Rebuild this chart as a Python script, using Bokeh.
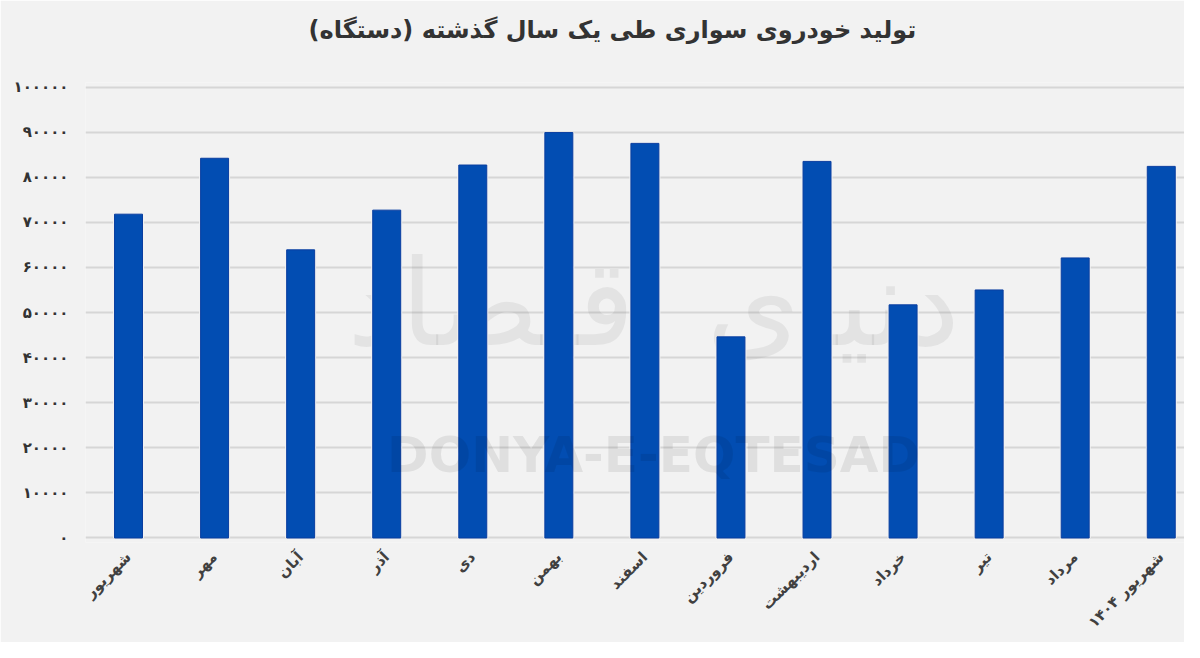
import math
from bokeh.plotting import figure
from bokeh.models import Range1d, FixedTicker, Label, Title
from bokeh.embed import file_html
from bokeh.resources import INLINE

months = ["شهریور", "مهر", "آبان", "آذر", "دی", "بهمن", "اسفند",
          "فروردین", "اردیبهشت", "خرداد", "تیر", "مرداد", "شهریور ۱۴۰۴"]
production = [71800, 84200, 63900, 72700, 82700, 89900, 87500,
              44600, 83500, 51700, 55000, 62100, 82400]
y_ticks = [0, 10000, 20000, 30000, 40000, 50000, 60000, 70000, 80000, 90000, 100000]
y_tick_labels = ["۰", "۱۰۰۰۰", "۲۰۰۰۰", "۳۰۰۰۰", "۴۰۰۰۰", "۵۰۰۰۰", "۶۰۰۰۰",
                 "۷۰۰۰۰", "۸۰۰۰۰", "۹۰۰۰۰", "۱۰۰۰۰۰"]
title_text = "تولید خودروی سواری طی یک سال گذشته (دستگاه)"

xs = list(range(len(months)))

BG = "#f2f2f2"
FONT = "DejaVu Sans"

p = figure(width=1184, height=642, output_backend="svg", toolbar_location=None,
           x_range=Range1d(-0.5, 12.27), y_range=Range1d(-1000, 101000),
           min_border_left=85, min_border_right=0, min_border_top=82,
           min_border_bottom=100, title=None)
p.background_fill_color = BG
p.border_fill_color = BG
p.outline_line_color = None

# spacer between frame and title, then the title itself
p.add_layout(Title(text=" ", text_font_size="10px", standoff=26), "above")
p.add_layout(Title(text=title_text, align="left", offset=223, text_font=FONT,
                   text_font_style="bold", text_font_size="24px",
                   text_color="#333333", standoff=0), "above")

# watermark
p.add_layout(Label(x=6.1, y=52000, text="دنیای اقتصاد", text_align="center",
                   text_baseline="middle", text_font=FONT, text_font_size="120px",
                   text_color="#000000", text_alpha=0.06, level="underlay"))

# halo under bars
p.vbar(x=xs, top=production, width=0.36, bottom=0, fill_color=BG, line_color=None)
p.vbar(x=xs, top=production, width=0.325, bottom=0, fill_color="#024db2",
       line_color="#0a3ea0", line_width=1)

p.add_layout(Label(x=6.1, y=18400, text="DONYA-E-EQTESAD", text_align="center",
                   text_baseline="middle", text_font=FONT, text_font_style="bold",
                   text_font_size="50px", text_color="#000000", text_alpha=0.08))

p.xgrid.grid_line_color = None
p.ygrid.grid_line_color = "#d6d6d6"
p.ygrid.grid_line_width = 2
p.ygrid.ticker = FixedTicker(ticks=y_ticks)

p.yaxis.ticker = FixedTicker(ticks=y_ticks)
p.yaxis.major_label_overrides = {t: l for t, l in zip(y_ticks, y_tick_labels)}
p.yaxis.axis_line_color = None
p.yaxis.major_tick_line_color = None
p.yaxis.minor_tick_line_color = None
p.yaxis.major_tick_out = 0
p.yaxis.major_tick_in = 0
p.yaxis.major_label_standoff = 17
p.yaxis.major_label_text_font = FONT
p.yaxis.major_label_text_font_style = "bold"
p.yaxis.major_label_text_font_size = "15px"
p.yaxis.major_label_text_color = "#333333"

p.xaxis.ticker = FixedTicker(ticks=xs)
p.xaxis.major_label_overrides = {i: m for i, m in enumerate(months)}
p.xaxis.axis_line_color = None
p.xaxis.major_tick_line_color = None
p.xaxis.minor_tick_line_color = None
p.xaxis.major_tick_out = 0
p.xaxis.major_tick_in = 0
p.xaxis.major_label_orientation = math.pi / 4
p.xaxis.major_label_standoff = 12
p.xaxis.major_label_text_font = FONT
p.xaxis.major_label_text_font_style = "bold"
p.xaxis.major_label_text_font_size = "15px"
p.xaxis.major_label_text_color = "#404040"

open("out.html", "w").write(file_html(p, INLINE))
